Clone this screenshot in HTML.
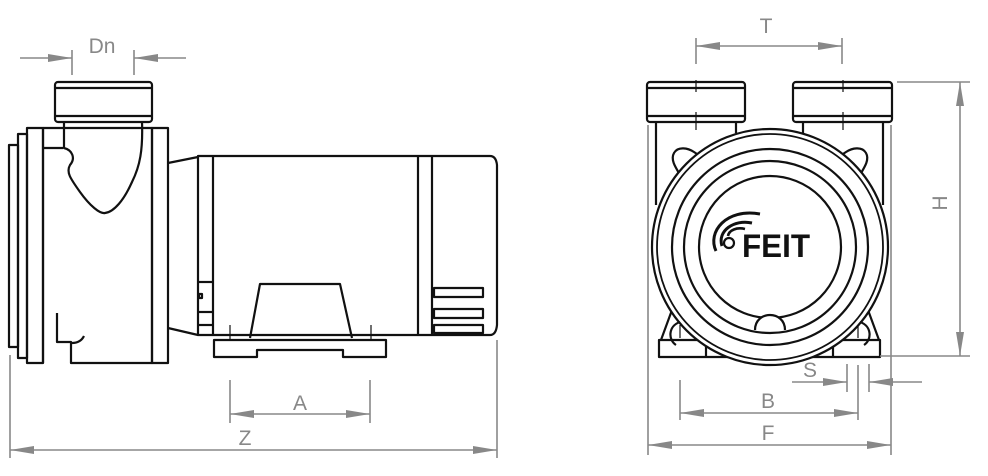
<!DOCTYPE html>
<html><head><meta charset="utf-8"><style>html,body{margin:0;padding:0;background:#fff}svg{display:block}</style></head>
<body>
<svg width="988" height="476" viewBox="0 0 988 476" xmlns="http://www.w3.org/2000/svg">
<defs>
<marker id="ar" viewBox="0 0 24 8" refX="24" refY="4" markerWidth="24" markerHeight="8" markerUnits="userSpaceOnUse" orient="auto"><path d="M0,0 L24,4 L0,8 Z" fill="#888"/></marker>
</defs>
<g fill="none" stroke="#111" stroke-width="2.2" stroke-linejoin="round">
<!-- LEFT VIEW -->
<rect x="55" y="82" width="97" height="40" rx="3"/>
<line x1="56" y1="88" x2="151" y2="88"/><line x1="56" y1="116" x2="151" y2="116"/>
<rect x="9" y="145" width="9" height="202"/>
<rect x="18" y="134" width="9" height="224"/>
<rect x="27" y="128" width="16" height="235"/>
<path d="M43,128 H152 V363 H71 V342 H57 V313 M43,363 V128"/>
<line x1="43" y1="148" x2="63" y2="148"/>
<path d="M64,122 V148 C72,150 76,158 70,165 C66,172 70,178 80,192 C90,206 100,214 105,213 C114,212 124,200 132,182 C140,166 143,150 142,122"/>
<path d="M72,343 C78,343 82,340 84,336"/>
<rect x="152" y="128" width="16" height="235"/>
<path d="M168,163 L198,157 M168,328 L198,335"/>
<path d="M198,156 H490 Q496,156 497,165 V325 Q496,335 490,335 H198 Z"/>
<line x1="213" y1="156" x2="213" y2="335"/>
<line x1="418" y1="156" x2="418" y2="335"/>
<line x1="432" y1="156" x2="432" y2="335"/>
<line x1="198" y1="282" x2="213" y2="282"/><line x1="198" y1="312" x2="213" y2="312"/><line x1="198" y1="325" x2="213" y2="325"/>
<rect x="199" y="294" width="3" height="4"/>
<path d="M250,338 L260,284 H340 L352,338"/>
<path d="M214,340 H386 V357 H343 V350 H257 V357 H214 Z"/>
<rect x="434" y="288" width="49" height="9"/>
<rect x="434" y="309" width="49" height="9"/>
<rect x="434" y="325" width="49" height="8"/>
<!-- RIGHT VIEW -->
<rect x="647" y="82" width="98" height="40" rx="3"/>
<line x1="648" y1="88" x2="744" y2="88"/><line x1="648" y1="116" x2="744" y2="116"/>
<rect x="793" y="82" width="99" height="40" rx="3"/>
<line x1="794" y1="88" x2="891" y2="88"/><line x1="794" y1="116" x2="891" y2="116"/>
<path d="M656,122 V205 M736,122 V133 M803,122 V133 M883,122 V205"/>
<!-- ears -->
<path d="M682,178 C676,168 670,160 674,153 C678,146 688,148 694,152 L700,156"/>
<path d="M858,178 C864,168 870,160 866,153 C862,146 852,148 846,152 L840,156"/>
<path d="M672,310 L661,340 M868,310 L879,340"/>
<rect x="659" y="340" width="221" height="17"/>
<line x1="706" y1="340" x2="706" y2="357"/><line x1="833" y1="340" x2="833" y2="357"/>
<circle cx="770" cy="247" r="118" fill="#fff"/>
<circle cx="770" cy="247" r="113" stroke-width="1.8"/>
<circle cx="770" cy="247" r="98"/>
<circle cx="770" cy="247" r="86"/>
<circle cx="770" cy="247" r="71"/>
<path d="M755,330 C755,310 785,310 785,330" fill="#fff"/>
<path d="M676,345 C668,340 668,326 680,322 M864,345 C872,340 872,326 860,322"/>
<!-- logo -->
<circle cx="729" cy="243" r="5"/>
<path d="M716,251 C707,232 726,208 760,214" stroke-width="3"/>
<path d="M722,246 C717,231 734,219 752,223" stroke-width="3"/>
<path d="M728,236 C729,230 737,227 745,229" stroke-width="2.6"/>
</g>
<text x="742" y="257" font-family="Liberation Sans, sans-serif" font-weight="bold" font-size="32" fill="#111" textLength="68" lengthAdjust="spacingAndGlyphs">FEIT</text>
<!-- center marks -->
<g stroke="#111" stroke-width="1.2">
<line x1="696" y1="80" x2="696" y2="92"/><line x1="696" y1="112" x2="696" y2="130"/>
<line x1="843" y1="80" x2="843" y2="92"/><line x1="843" y1="112" x2="843" y2="130"/>
<line x1="680" y1="325" x2="680" y2="338"/><line x1="858" y1="325" x2="858" y2="338"/>
<line x1="230" y1="325" x2="230" y2="340"/><line x1="371" y1="325" x2="371" y2="340"/>
</g>
<!-- DIMENSIONS -->
<g stroke="#888" stroke-width="1.6" fill="none">
<line x1="72" y1="50" x2="72" y2="75"/><line x1="134" y1="50" x2="134" y2="75"/>
<line x1="20" y1="58" x2="72" y2="58" marker-end="url(#ar)"/>
<line x1="186" y1="58" x2="134" y2="58" marker-end="url(#ar)"/>
<line x1="230" y1="380" x2="230" y2="423"/><line x1="370" y1="380" x2="370" y2="423"/>
<line x1="300" y1="414" x2="230" y2="414" marker-end="url(#ar)"/>
<line x1="300" y1="414" x2="370" y2="414" marker-end="url(#ar)"/>
<line x1="10" y1="355" x2="10" y2="458"/><line x1="497" y1="340" x2="497" y2="458"/>
<line x1="250" y1="450" x2="10" y2="450" marker-end="url(#ar)"/>
<line x1="250" y1="450" x2="497" y2="450" marker-end="url(#ar)"/>
<line x1="696" y1="38" x2="696" y2="64"/><line x1="842" y1="38" x2="842" y2="64"/>
<line x1="770" y1="46" x2="696" y2="46" marker-end="url(#ar)"/>
<line x1="770" y1="46" x2="842" y2="46" marker-end="url(#ar)"/>
<line x1="897" y1="82" x2="970" y2="82"/><line x1="880" y1="356" x2="970" y2="356"/>
<line x1="960" y1="220" x2="960" y2="82" marker-end="url(#ar)"/>
<line x1="960" y1="220" x2="960" y2="356" marker-end="url(#ar)"/>
<line x1="648" y1="125" x2="648" y2="455"/><line x1="891" y1="125" x2="891" y2="455"/>
<line x1="680" y1="380" x2="680" y2="420"/><line x1="858" y1="365" x2="858" y2="420"/>
<line x1="768" y1="413" x2="680" y2="413" marker-end="url(#ar)"/>
<line x1="768" y1="413" x2="858" y2="413" marker-end="url(#ar)"/>
<line x1="770" y1="445" x2="648" y2="445" marker-end="url(#ar)"/>
<line x1="770" y1="445" x2="891" y2="445" marker-end="url(#ar)"/>
<line x1="847" y1="364" x2="847" y2="392"/><line x1="869" y1="364" x2="869" y2="392"/>
<line x1="792" y1="382" x2="847" y2="382" marker-end="url(#ar)"/>
<line x1="922" y1="382" x2="869" y2="382" marker-end="url(#ar)"/>
</g>
<g font-family="Liberation Sans, sans-serif" font-size="21" fill="#888" text-anchor="middle">
<text x="102" y="53">Dn</text>
<text x="300" y="410">A</text>
<text x="245" y="445">Z</text>
<text x="766" y="33">T</text>
<text x="768" y="408">B</text>
<text x="768" y="440">F</text>
<text x="810" y="377">S</text>
<text x="0" y="0" transform="translate(947,203) rotate(-90)">H</text>
</g>
</svg>
</body></html>
